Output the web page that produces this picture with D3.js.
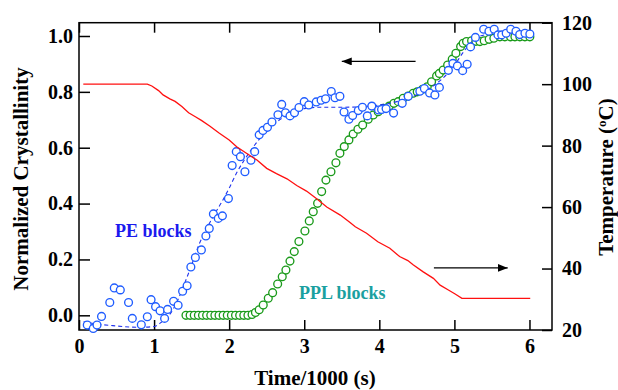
<!DOCTYPE html>
<html>
<head>
<meta charset="utf-8">
<script src="https://cdn.jsdelivr.net/npm/d3@7"></script>
<style>
  html, body { margin: 0; padding: 0; background: #fff; }
  svg { display: block; }
  text { font-family: "Liberation Serif", "Times New Roman", serif; font-weight: bold; }
</style>
</head>
<body>
<svg id="chart" width="618" height="390"></svg>
<script>
// ---------- data ----------
const xTicks = [0, 1, 2, 3, 4, 5, 6];
const yLeftTicks = [0.0, 0.2, 0.4, 0.6, 0.8, 1.0];
const yRightTicks = [20, 40, 60, 80, 100, 120];

// PE blocks (blue circles): time/1000 s, normalized crystallinity
const peTime = [0.11,0.19,0.24,0.30,0.41,0.47,0.55,0.66,0.71,0.83,0.91,0.96,1.02,1.08,1.14,1.18,1.26,1.32,1.38,1.44,
  1.49,1.55,1.63,1.69,1.735,1.79,1.855,1.91,1.99,2.04,2.095,2.15,2.21,2.29,2.34,2.40,2.45,2.51,2.57,2.65,
  2.70,2.75,2.81,2.87,2.93,3.00,3.06,3.16,3.225,3.285,3.36,3.41,3.475,3.53,3.595,3.645,3.72,3.775,3.84,3.90,
  3.99,4.03,4.09,4.19,4.305,4.385,4.54,4.60,4.67,4.74,4.80,4.92,4.98,5.04,5.11,5.17,5.215,5.28,5.39,5.46,
  5.53,5.58,5.63,5.69,5.75,5.82,5.87,5.94,6.005];
const peCryst = [-0.035,-0.047,-0.035,-0.004,0.046,0.098,0.091,0.046,-0.011,-0.034,-0.005,0.056,0.031,0.016,-0.011,0.021,0.050,0.036,0.086,0.106,
  0.173,0.207,0.234,0.284,0.311,0.363,0.347,0.356,0.418,0.536,0.586,0.568,0.514,0.555,0.586,0.646,0.662,0.673,0.692,0.718,
  0.755,0.725,0.714,0.725,0.744,0.765,0.753,0.764,0.770,0.775,0.801,0.779,0.784,0.728,0.702,0.715,0.733,0.745,0.714,0.749,
  0.735,0.737,0.740,0.724,0.759,0.784,0.802,0.812,0.796,0.789,0.816,0.877,0.902,0.893,0.876,0.899,0.961,0.995,1.024,1.017,
  1.024,1.004,1.004,1.010,1.024,1.017,1.005,1.010,1.007];

// PE fit (blue dashed)
const fitTime  = [0.06,0.2,0.45,0.8,1.0,1.1,1.2,1.3,1.4,1.5,1.6,1.7,1.8,1.9,2.0,2.1,2.2,2.3,2.4,2.5,2.6,2.7,2.8,2.9,3.0,3.2,3.5,3.7,
  3.9,4.1,4.3,4.5,4.7,4.85,5.0,5.1,5.2,5.3,5.4,5.6,5.8,6.08];
const fitCryst = [-0.023,-0.030,-0.037,-0.043,-0.040,-0.024,0.0,0.045,0.11,0.18,0.255,0.31,0.36,0.405,0.455,0.51,0.555,0.595,0.63,0.66,0.685,0.705,0.72,0.733,0.740,0.745,0.745,0.746,
  0.750,0.757,0.770,0.790,0.818,0.850,0.895,0.935,0.970,0.993,1.004,1.009,1.010,1.010];

// PPL blocks (green circles)
const pplTime = [1.425,1.48,1.535,1.59,1.645,1.70,1.755,1.81,1.865,1.92,1.975,2.03,2.085,2.14,2.195,2.25,
  2.305,2.35,2.40,2.454,2.521,2.579,2.646,2.707,2.756,2.81,2.867,2.929,3.009,3.067,3.12,3.178,3.232,3.289,3.356,
  3.422,3.475,3.533,3.595,3.652,3.715,3.778,3.852,3.919,3.985,4.052,4.132,4.194,4.252,4.318,4.385,4.451,4.505,
  4.576,4.638,4.696,4.763,4.80,4.851,4.91,4.971,5.02,5.083,5.117,5.162,5.229,5.286,5.34,5.397,5.463,5.526,
  5.606,5.672,5.748,5.806,5.872,5.939,6.005];
const pplCryst = [0,0,0,0,0,0,0,0,0,0,0,0,0,0,0,0,
  0.003,0.010,0.020,0.037,0.061,0.081,0.112,0.138,0.162,0.194,0.228,0.264,0.302,0.338,0.371,0.401,0.443,0.484,0.514,
  0.546,0.580,0.604,0.628,0.649,0.666,0.681,0.702,0.717,0.729,0.741,0.749,0.759,0.765,0.777,0.785,0.795,0.800,
  0.809,0.818,0.836,0.857,0.866,0.878,0.896,0.917,0.938,0.962,0.974,0.980,0.983,0.981,0.980,0.983,0.988,0.992,
  0.997,0.997,0.997,0.997,0.997,0.997,0.997];

// Temperature (red line)
const tempTime = [0.057,0.91,0.97,1.06,1.12,1.21,1.28,1.37,1.46,1.55,1.63,1.74,1.87,2.0,2.1,2.23,2.37,2.5,2.63,2.77,
  2.9,3.03,3.17,3.30,3.48,3.61,3.68,3.83,3.98,4.14,4.27,4.38,4.45,4.58,4.72,4.81,4.92,5.01,5.10,6.01];
const tempC = [100,100,99.4,97.9,96.5,95.2,94.4,92.7,90.7,89.4,88.2,86.4,84.0,81.8,79.6,77.5,75.3,72.6,70.9,69.2,
  67.0,65.2,62.6,60.0,57.4,55.0,53.6,51.5,48.7,46.6,43.9,42.6,41.2,39.0,36.8,34.6,33.0,31.7,30.3,30.3];

// ---------- layout ----------
const svg = d3.select("#chart");
const L = 79, R = 552, T = 22.7, B = 330;

const x = d3.scaleLinear().domain([0, 6.3]).range([L, R]);
const yL = d3.scaleLinear().domain([-0.0526, 1.0476]).range([B, T]);
const yR = d3.scaleLinear().domain([20, 120]).range([B, T]);

// axes
const fs = "20px";
const gB = svg.append("g").attr("transform", `translate(0,${B})`)
  .call(d3.axisBottom(x).tickValues(xTicks).tickSize(-10).tickPadding(9).tickFormat(d3.format("d")));
const gT = svg.append("g").attr("transform", `translate(0,${T})`)
  .call(d3.axisTop(x).tickValues(xTicks).tickSize(-10).tickFormat(""));
const gL = svg.append("g").attr("transform", `translate(${L},0)`)
  .call(d3.axisLeft(yL).tickValues(yLeftTicks).tickSize(-11).tickPadding(6).tickFormat(d3.format(".1f")));
const gR = svg.append("g").attr("transform", `translate(${R},0)`)
  .call(d3.axisRight(yR).tickValues(yRightTicks).tickSize(-10).tickPadding(10).tickFormat(d3.format("d")));
[gB, gT, gL, gR].forEach(g => {
  g.select(".domain").remove();
  g.selectAll(".tick line").attr("stroke", "#000").attr("stroke-width", 1.5);
  g.selectAll(".tick text").attr("fill", "#000").style("font-size", fs)
    .style("font-family", '"Liberation Serif", "Times New Roman", serif').style("font-weight", "bold");
});

// frame
svg.append("rect").attr("x", L).attr("y", T).attr("width", R - L).attr("height", B - T)
  .attr("fill", "none").attr("stroke", "#000").attr("stroke-width", 1.5);

// red temperature line
const tempData = tempTime.map((t, i) => [t, tempC[i]]);
const redLine = d3.line().x(d => x(d[0])).y(d => yR(d[1]));

// green circles
const pplData = pplTime.map((t, i) => [t, pplCryst[i]]);
svg.append("g").selectAll("circle").data(pplData).join("circle")
  .attr("cx", d => x(d[0])).attr("cy", d => yL(d[1])).attr("r", 3.9)
  .attr("fill", "#fff").attr("stroke", "#1a9a1a").attr("stroke-width", 1.35);

// blue fit
const fitData = fitTime.map((t, i) => [t, fitCryst[i]]);
svg.append("path").datum(fitData)
  .attr("d", d3.line().x(d => x(d[0])).y(d => yL(d[1])).curve(d3.curveMonotoneX))
  .attr("fill", "none").attr("stroke", "#2233ee").attr("stroke-width", 1.1).attr("stroke-dasharray", "4,3");

// blue circles
const peData = peTime.map((t, i) => [t, peCryst[i]]);
svg.append("g").selectAll("circle").data(peData).join("circle")
  .attr("cx", d => x(d[0])).attr("cy", d => yL(d[1])).attr("r", 3.9)
  .attr("fill", "#fff").attr("stroke", "#1f5cff").attr("stroke-width", 1.35);

svg.append("path").datum(tempData).attr("d", redLine)
  .attr("fill", "none").attr("stroke", "#ff1010").attr("stroke-width", 1.3);

// arrows
const defs = svg.append("defs");
defs.append("marker").attr("id", "ah").attr("viewBox", "0 0 10 8").attr("refX", 10).attr("refY", 4)
  .attr("markerWidth", 10).attr("markerHeight", 8).attr("markerUnits", "userSpaceOnUse").attr("orient", "auto")
  .append("path").attr("d", "M0,0 L10,4 L0,8 Z").attr("fill", "#000");
svg.append("line").attr("x1", x(4.483)).attr("x2", x(3.50)).attr("y1", yL(0.909)).attr("y2", yL(0.909))
  .attr("stroke", "#000").attr("stroke-width", 1.3).attr("marker-end", "url(#ah)");
svg.append("line").attr("x1", x(4.727)).attr("x2", x(5.71)).attr("y1", yR(40.2)).attr("y2", yR(40.2))
  .attr("stroke", "#000").attr("stroke-width", 1.3).attr("marker-end", "url(#ah)");

// labels
svg.append("text").attr("x", x(0.48)).attr("y", yL(0.281)).text("PE blocks")
  .attr("fill", "#1a1aee").style("font-size", "18px");
svg.append("text").attr("x", x(2.93)).attr("y", yL(0.058)).text("PPL blocks")
  .attr("fill", "#1aa0a0").style("font-size", "18px");

// axis titles
svg.append("text").attr("x", 315).attr("y", 385).attr("text-anchor", "middle")
  .style("font-size", "21px").text("Time/1000 (s)");
svg.append("text").attr("transform", "translate(28,179) rotate(-90)").attr("text-anchor", "middle")
  .style("font-size", "21px").text("Normalized Crystallinity");
const rt = svg.append("text").attr("transform", "translate(612.5,177) rotate(-90)").attr("text-anchor", "middle")
  .style("font-size", "21px");
rt.append("tspan").text("Temperature (");
rt.append("tspan").attr("dy", "-7").style("font-size", "13px").text("o");
rt.append("tspan").attr("dy", "7").text("C)");
</script>
</body>
</html>
